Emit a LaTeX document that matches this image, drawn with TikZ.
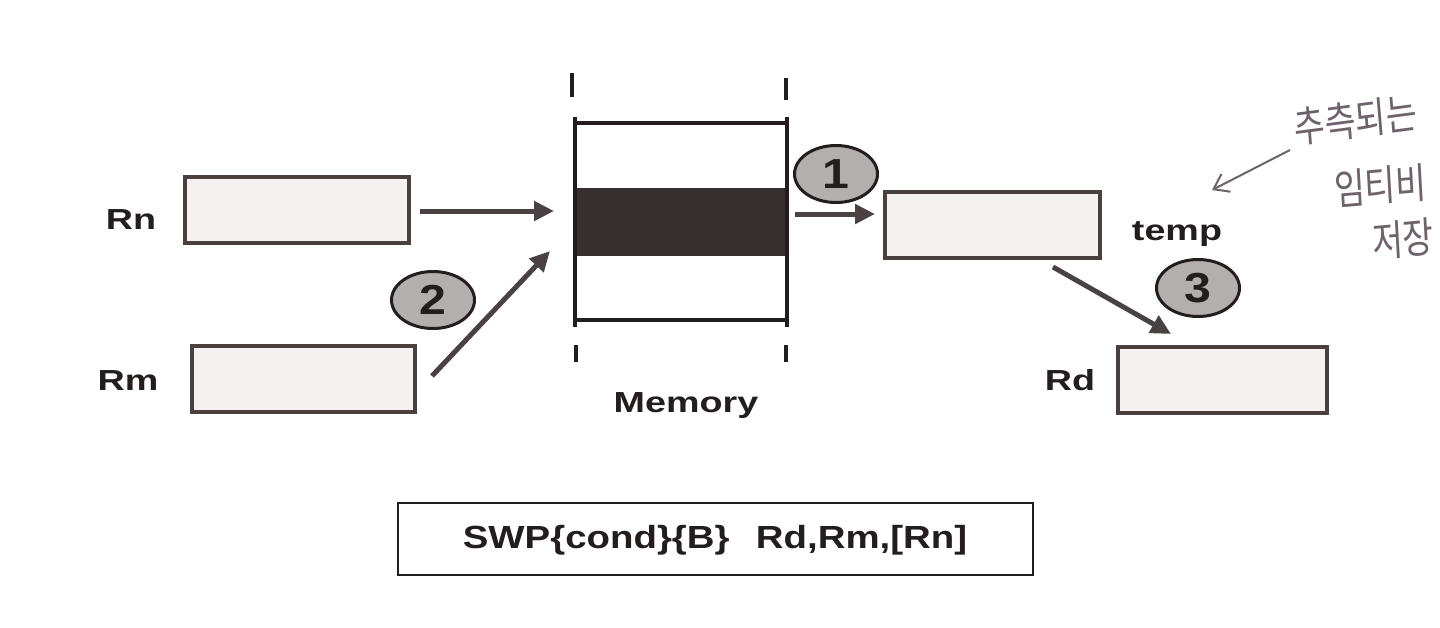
\documentclass[tikz,border=0pt]{standalone}
\usepackage{fontspec}
\setmainfont{Liberation Sans}
\newfontfamily\hangul{Noto Sans CJK KR}
\usetikzlibrary{arrows.meta,shapes.geometric}
\definecolor{ink}{HTML}{231D1D}
\definecolor{edge}{HTML}{4A403D}
\definecolor{boxfill}{HTML}{F5F1F1}
\definecolor{arrowc}{HTML}{4A4242}
\definecolor{bubble}{HTML}{B4AFAF}
\definecolor{pen}{HTML}{6E626C}
\tikzset{
  reg/.style={draw=edge, line width=4pt, fill=boxfill, minimum width=#1, minimum height=66pt, inner sep=0pt},
  lbl/.style={text=ink, font=\bfseries\fontsize{29}{34}\selectfont, inner sep=0pt, xscale=1.3},
  arr/.style={draw=arrowc, line width=5pt, -{Triangle[length=20pt,width=19pt]}},
  bub/.style={ellipse, draw=ink, line width=3pt, fill=bubble, minimum width=83pt, minimum height=57pt, inner sep=0pt},
  bubtext/.style={font=\bfseries\fontsize{42}{46}\selectfont, text=ink, xscale=1.15, inner sep=0pt},
  memline/.style={draw=ink, line width=4.5pt},
  tick/.style={draw=ink, line width=4pt},
  hand/.style={text=pen, font=\hangul\fontsize{42}{46}\selectfont, inner sep=0pt, anchor=west, xscale=0.8}
}
\begin{document}
\begin{tikzpicture}[x=1pt,y=-1pt]
\useasboundingbox[fill=white] (0,0) rectangle (1440,627);

% registers
\node[reg=224pt] (rn) at (297,210) {};
\node[reg=223pt] (rm) at (303.5,379) {};
\node[reg=215pt] (temp) at (992.5,225) {};
\node[reg=209pt] (rd) at (1222.5,380) {};

\node[lbl] (rnl) at (131,220) {Rn};
\node[lbl] (rml) at (128,381) {Rm};
\node[lbl] (templ) at (1177,234) {temp};
\node[lbl] (rdl) at (1070,380) {Rd};

% memory
\node[minimum width=212pt, minimum height=197pt, inner sep=0pt] (mem) at (681,221.5) {};
\fill[ink!92] (575,188) rectangle (787,256);
\draw[memline] (575,117) -- (575,327);
\draw[memline] (787,117) -- (787,327);
\draw[memline] (575,123) -- (787,123);
\draw[memline] (575,320) -- (787,320);
\draw[tick] (572,73) -- (572,97);
\draw[tick] (786,78) -- (786,100);
\draw[tick] (576,345) -- (576,362);
\draw[tick] (786,345) -- (786,362);
\node[lbl] (meml) at (686,406) {Memory};

% arrows
\coordinate (a1s) at (420,211);
\coordinate (a1e) at (554,211);
\draw[arr] (a1s) -- (a1e);
\coordinate (a2s) at (432,376);
\coordinate (a2e) at (550,251);
\draw[arr] (a2s) -- (a2e);
\coordinate (a3s) at (795,214);
\coordinate (a3e) at (875,214);
\draw[arr] (a3s) -- (a3e);
\coordinate (a4s) at (1053,267);
\coordinate (a4e) at (1171,334);
\draw[arr] (a4s) -- (a4e);

% bubbles
\node[bub] (b1) at (836,174) {};
\node[bubtext] (b1t) at (b1) {1};
\node[bub] (b2) at (433,300) {};
\node[bubtext] (b2t) at (b2) {2};
\node[bub] (b3) at (1198,288) {};
\node[bubtext] (b3t) at (b3) {3};

% instruction
\node[draw=ink, line width=2.5pt, fill=white, minimum width=635pt, minimum height=72pt, inner sep=0pt] (instr) at (715.5,539) {};
\node[text=ink, inner sep=0pt, font=\bfseries\fontsize{32}{36}\selectfont, xscale=1.2] (instrt) at (715,540) {SWP\{cond\}\{B\}\hspace{22pt}Rd,Rm,[Rn]};

% handwritten note
\node[hand, rotate=6] (h1) at (1294,128) {추측되는};
\node[hand, rotate=4] (h2) at (1334,190) {임티비};
\node[hand, rotate=4] (h3) at (1372,242) {저장};
\coordinate (hs) at (1290,150);
\coordinate (he) at (1212,190);
\draw[pen, line width=2pt, -{Straight Barb[length=14pt,width=20pt]}] (hs) -- (he);
\end{tikzpicture}
\end{document}
